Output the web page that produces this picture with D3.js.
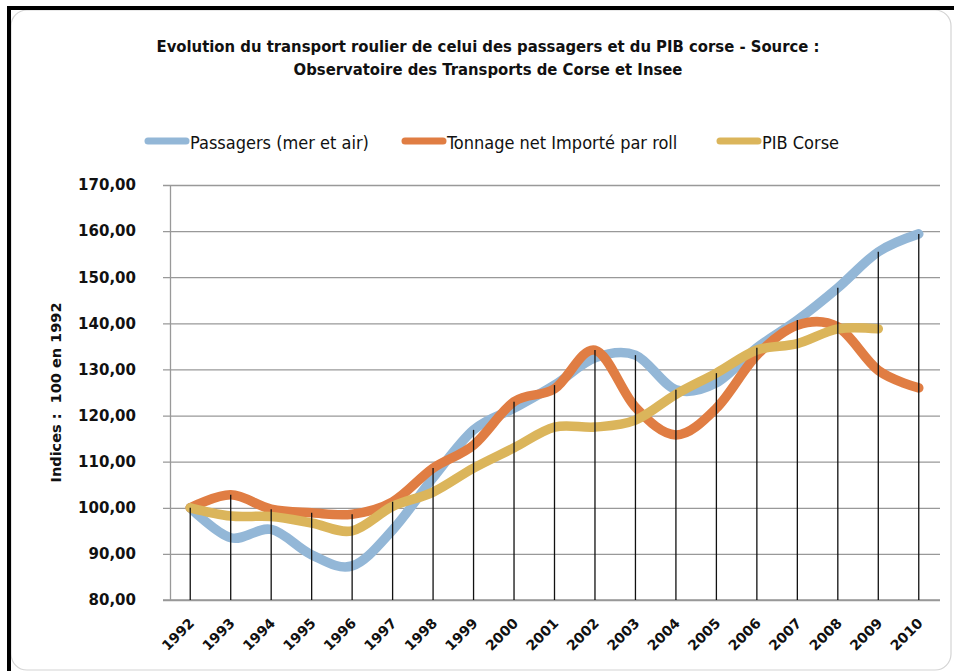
<!DOCTYPE html>
<html>
<head>
<meta charset="utf-8">
<script src="https://cdn.jsdelivr.net/npm/d3@7"></script>
<style>
  body { margin: 0; background: #fff; }
  svg { display: block; }
</style>
</head>
<body>
<script>
// data
var years = ["1992","1993","1994","1995","1996","1997","1998","1999","2000","2001",
             "2002","2003","2004","2005","2006","2007","2008","2009","2010"];
var passagers = [100, 93.5, 95.3, 89.8, 87.4, 95.2, 106.5, 116.9, 121.6, 126.6,
                 132.5, 133.1, 125.6, 127.1, 134.7, 140.7, 147.7, 155.5, 159.4];
var tonnage = [100, 102.8, 99.7, 98.9, 98.6, 101.3, 108.6, 113.6, 123, 125.8,
               134.2, 121.8, 115.8, 121.6, 133.1, 139.6, 139.2, 129.8, 126];
var pib = [100, 98.2, 98.1, 96.7, 95, 100.3, 103.4, 108.6, 113, 117.5,
           117.5, 119, 124.6, 129.2, 134.2, 135.6, 138.8, 138.8, null];
var yTicks = [80, 90, 100, 110, 120, 130, 140, 150, 160, 170];

var seriesNames = ["Passagers (mer et air)", "Tonnage net Importé par roll", "PIB Corse"];
var seriesColors = ["#93b7d7", "#e07d43", "#dbb55b"];

var W = 954, H = 671;
var margin = {top: 185, right: 14, bottom: 71, left: 170};
var width = W - margin.left - margin.right,
    height = H - margin.top - margin.bottom;

var svg = d3.select("body").append("svg")
    .attr("width", W)
    .attr("height", H);

// frame (screenshot borders)
svg.append("rect")
    .attr("x", 11).attr("y", 10)
    .attr("width", 940).attr("height", 660)
    .attr("rx", 16)
    .attr("fill", "#fff")
    .attr("stroke", "#d4d4d4")
    .attr("stroke-width", 1.2);
svg.append("rect").attr("x", 7).attr("y", 6).attr("width", 4).attr("height", H).attr("fill", "#000");
svg.append("rect").attr("x", 7).attr("y", 6).attr("width", W).attr("height", 4).attr("fill", "#000");

// title
var title = svg.append("text")
    .attr("text-anchor", "middle")
    .attr("font-family", "DejaVu Sans Condensed")
    .attr("font-weight", "bold")
    .style("font-size", "16.5px")
    .attr("fill", "#111");
title.append("tspan").attr("x", 488).attr("y", 52)
    .text("Evolution du transport roulier de celui des passagers et du PIB corse - Source :");
title.append("tspan").attr("x", 488).attr("y", 75)
    .text("Observatoire des Transports de Corse et Insee");

var g = svg.append("g")
    .attr("transform", "translate(" + margin.left + "," + margin.top + ")");

var xScale = d3.scaleBand()
    .domain(years)
    .range([0, width - 1]);

var yScale = d3.scaleLinear()
    .domain([80, 170])
    .range([height, 0]);

function xc(i) { return xScale(years[i]) + xScale.bandwidth() / 2; }

// gridlines + y axis
g.append("g")
    .attr("id", "y-axis")
    .call(d3.axisLeft(yScale).tickValues(yTicks).tickSize(-width).tickSizeOuter(0)
        .tickFormat(function(d) { return d3.format(".2f")(d).replace(".", ","); }))
    .call(function(ax) {
        ax.select(".domain").attr("stroke", "#999").attr("stroke-width", 1.3);
        ax.selectAll(".tick line").attr("stroke", "#999").attr("stroke-width", 1.3).attr("x1", -7);
        ax.selectAll(".tick text")
            .attr("x", -34)
            .attr("fill", "#111")
            .attr("font-family", "DejaVu Sans")
            .attr("font-weight", "bold")
            .style("font-size", "15px");
    });

// x axis
g.append("g")
    .attr("id", "x-axis")
    .attr("transform", "translate(0," + height + ")")
    .call(d3.axisBottom(xScale).tickSize(0).tickSizeOuter(0))
    .call(function(ax) {
        ax.select(".domain").attr("stroke", "#999").attr("stroke-width", 1.3).attr("d", "M-7,0H" + width);
        ax.selectAll(".tick text")
            .attr("text-anchor", "end")
            .attr("dy", null)
            .attr("y", 0)
            .attr("transform", "translate(5,24) rotate(-45)")
            .attr("fill", "#111")
            .attr("font-family", "DejaVu Sans")
            .attr("font-weight", "bold")
            .style("font-size", "14px");
    });

// y axis title
svg.append("text")
    .attr("transform", "translate(61," + (margin.top + height / 2) + ") rotate(-90)")
    .attr("text-anchor", "middle")
    .attr("font-family", "DejaVu Sans")
    .attr("font-weight", "bold")
    .style("font-size", "14.5px")
    .attr("fill", "#111")
    .attr("xml:space", "preserve")
    .text("Indices :  100 en 1992");

// series lines
var allSeries = [passagers, tonnage, pib];
var line = d3.line()
    .defined(function(d) { return d != null; })
    .x(function(d, i) { return xc(i); })
    .y(function(d) { return yScale(d); })
    .curve(d3.curveCardinal.tension(0));

allSeries.forEach(function(s, k) {
    g.append("path")
        .datum(s)
        .attr("fill", "none")
        .attr("stroke", seriesColors[k])
        .attr("stroke-width", 9.5)
        .attr("stroke-linecap", "round")
        .attr("stroke-linejoin", "round")
        .attr("d", line);
});

// drop lines from axis to highest point
g.append("g").selectAll("line")
    .data(years)
    .enter().append("line")
    .attr("x1", function(d, i) { return xc(i); })
    .attr("x2", function(d, i) { return xc(i); })
    .attr("y1", height)
    .attr("y2", function(d, i) {
        return yScale(d3.max(allSeries, function(s) { return s[i]; }));
    })
    .attr("stroke", "#111")
    .attr("stroke-width", 1.3);

// legend
var legendX = [145, 402, 717];
var legend = svg.append("g");
seriesNames.forEach(function(name, k) {
    legend.append("line")
        .attr("x1", legendX[k] + 3).attr("x2", legendX[k] + 41)
        .attr("y1", 141).attr("y2", 141)
        .attr("stroke", seriesColors[k])
        .attr("stroke-width", 7)
        .attr("stroke-linecap", "round");
    legend.append("text")
        .attr("x", legendX[k] + 45)
        .attr("y", 149)
        .attr("font-family", "DejaVu Sans Condensed")
        .style("font-size", "18px")
        .attr("fill", "#111")
        .text(name);
});
</script>
</body>
</html>
